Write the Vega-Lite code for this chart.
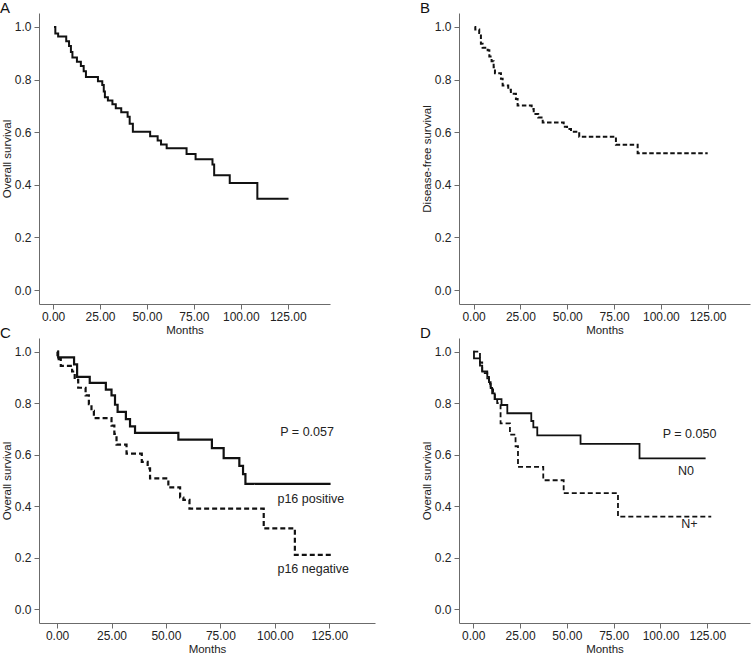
{
  "$schema": "https://vega.github.io/schema/vega-lite/v6.json",
  "autosize": {"type": "pad"},
  "padding": {"left": 0, "top": 1, "right": 4, "bottom": 0},
  "background": "white",
  "datasets": {
    "A": [
      {"t": 0.5, "s": 1.0}, {"t": 1.2, "s": 0.975}, {"t": 2.7, "s": 0.964}, {"t": 7.0, "s": 0.946},
      {"t": 8.5, "s": 0.928}, {"t": 9.5, "s": 0.905}, {"t": 10.3, "s": 0.884}, {"t": 12.7, "s": 0.868},
      {"t": 14.8, "s": 0.852}, {"t": 16.3, "s": 0.832}, {"t": 17.5, "s": 0.81}, {"t": 23.9, "s": 0.794},
      {"t": 26.2, "s": 0.779}, {"t": 27.0, "s": 0.755}, {"t": 27.6, "s": 0.733}, {"t": 29.2, "s": 0.72},
      {"t": 31.6, "s": 0.706}, {"t": 33.4, "s": 0.691}, {"t": 36.3, "s": 0.676}, {"t": 39.7, "s": 0.659},
      {"t": 40.8, "s": 0.632}, {"t": 42.5, "s": 0.602}, {"t": 51.7, "s": 0.585}, {"t": 55.7, "s": 0.568},
      {"t": 57.5, "s": 0.553}, {"t": 60.5, "s": 0.539}, {"t": 71.1, "s": 0.517}, {"t": 75.9, "s": 0.497},
      {"t": 84.9, "s": 0.477}, {"t": 85.8, "s": 0.436}, {"t": 94.1, "s": 0.407}, {"t": 108.8, "s": 0.347},
      {"t": 125.4, "s": 0.347}
    ],
    "B": [
      {"t": 0.5, "s": 1.0}, {"t": 0.9, "s": 0.99}, {"t": 3.0, "s": 0.977}, {"t": 3.9, "s": 0.936},
      {"t": 4.8, "s": 0.921}, {"t": 7.5, "s": 0.911}, {"t": 8.4, "s": 0.888}, {"t": 9.6, "s": 0.87},
      {"t": 10.7, "s": 0.847}, {"t": 11.4, "s": 0.824}, {"t": 14.6, "s": 0.803}, {"t": 15.5, "s": 0.777},
      {"t": 18.5, "s": 0.761}, {"t": 19.9, "s": 0.746}, {"t": 22.6, "s": 0.726}, {"t": 23.5, "s": 0.701},
      {"t": 31.0, "s": 0.688}, {"t": 32.1, "s": 0.669}, {"t": 34.5, "s": 0.656}, {"t": 36.9, "s": 0.637},
      {"t": 48.1, "s": 0.621}, {"t": 49.9, "s": 0.612}, {"t": 52.0, "s": 0.602}, {"t": 56.4, "s": 0.583},
      {"t": 76.0, "s": 0.552}, {"t": 87.6, "s": 0.52}, {"t": 125.0, "s": 0.52}
    ],
    "C": [
      {"g": "p16 positive", "t": 0.3, "s": 1.0}, {"g": "p16 positive", "t": 0.5, "s": 0.978},
      {"g": "p16 positive", "t": 7.8, "s": 0.951}, {"g": "p16 positive", "t": 9.2, "s": 0.902},
      {"g": "p16 positive", "t": 15.0, "s": 0.879}, {"g": "p16 positive", "t": 22.4, "s": 0.853},
      {"g": "p16 positive", "t": 25.0, "s": 0.83}, {"g": "p16 positive", "t": 26.6, "s": 0.794},
      {"g": "p16 positive", "t": 27.8, "s": 0.766}, {"g": "p16 positive", "t": 31.6, "s": 0.738},
      {"g": "p16 positive", "t": 33.5, "s": 0.71}, {"g": "p16 positive", "t": 35.8, "s": 0.685},
      {"g": "p16 positive", "t": 55.7, "s": 0.659}, {"g": "p16 positive", "t": 71.1, "s": 0.626},
      {"g": "p16 positive", "t": 76.5, "s": 0.587}, {"g": "p16 positive", "t": 83.7, "s": 0.557},
      {"g": "p16 positive", "t": 85.4, "s": 0.525}, {"g": "p16 positive", "t": 86.5, "s": 0.487},
      {"g": "p16 positive", "t": 125.6, "s": 0.487},
      {"g": "p16 negative", "t": 0.0, "s": 1.0}, {"g": "p16 negative", "t": 0.2, "s": 0.971},
      {"g": "p16 negative", "t": 1.7, "s": 0.945}, {"g": "p16 negative", "t": 6.9, "s": 0.923},
      {"g": "p16 negative", "t": 8.1, "s": 0.891}, {"g": "p16 negative", "t": 9.7, "s": 0.86},
      {"g": "p16 negative", "t": 13.1, "s": 0.83}, {"g": "p16 negative", "t": 14.6, "s": 0.796},
      {"g": "p16 negative", "t": 15.8, "s": 0.77}, {"g": "p16 negative", "t": 16.9, "s": 0.742},
      {"g": "p16 negative", "t": 25.0, "s": 0.713}, {"g": "p16 negative", "t": 26.3, "s": 0.681},
      {"g": "p16 negative", "t": 27.3, "s": 0.639}, {"g": "p16 negative", "t": 31.9, "s": 0.604},
      {"g": "p16 negative", "t": 38.9, "s": 0.572}, {"g": "p16 negative", "t": 41.6, "s": 0.547},
      {"g": "p16 negative", "t": 42.7, "s": 0.508}, {"g": "p16 negative", "t": 51.1, "s": 0.473},
      {"g": "p16 negative", "t": 56.5, "s": 0.434}, {"g": "p16 negative", "t": 58.0, "s": 0.425},
      {"g": "p16 negative", "t": 60.8, "s": 0.391}, {"g": "p16 negative", "t": 94.9, "s": 0.314},
      {"g": "p16 negative", "t": 109.2, "s": 0.211}, {"g": "p16 negative", "t": 126.4, "s": 0.211}
    ],
    "Cnotes": [
      {"t": 102.5, "s": 0.688, "label": "P = 0.057"},
      {"t": 101.2, "s": 0.43, "label": "p16 positive"},
      {"t": 101.2, "s": 0.158, "label": "p16 negative"}
    ],
    "D": [
      {"g": "N0", "t": 0.0, "s": 1.0}, {"g": "N0", "t": 0.4, "s": 0.974}, {"g": "N0", "t": 3.6, "s": 0.946},
      {"g": "N0", "t": 4.8, "s": 0.923}, {"g": "N0", "t": 7.5, "s": 0.902}, {"g": "N0", "t": 8.4, "s": 0.882},
      {"g": "N0", "t": 9.3, "s": 0.859}, {"g": "N0", "t": 10.1, "s": 0.838}, {"g": "N0", "t": 11.4, "s": 0.816},
      {"g": "N0", "t": 15.1, "s": 0.793}, {"g": "N0", "t": 18.2, "s": 0.761}, {"g": "N0", "t": 31.0, "s": 0.731},
      {"g": "N0", "t": 32.1, "s": 0.706}, {"g": "N0", "t": 34.2, "s": 0.675}, {"g": "N0", "t": 57.3, "s": 0.642},
      {"g": "N0", "t": 88.8, "s": 0.586}, {"g": "N0", "t": 124.1, "s": 0.586},
      {"g": "N+", "t": 0.0, "s": 1.0}, {"g": "N+", "t": 3.6, "s": 0.958}, {"g": "N+", "t": 4.8, "s": 0.917},
      {"g": "N+", "t": 7.5, "s": 0.896}, {"g": "N+", "t": 8.4, "s": 0.875}, {"g": "N+", "t": 9.3, "s": 0.854},
      {"g": "N+", "t": 10.6, "s": 0.833}, {"g": "N+", "t": 11.6, "s": 0.812}, {"g": "N+", "t": 12.8, "s": 0.8},
      {"g": "N+", "t": 14.6, "s": 0.722}, {"g": "N+", "t": 19.6, "s": 0.678}, {"g": "N+", "t": 22.6, "s": 0.633},
      {"g": "N+", "t": 23.9, "s": 0.553}, {"g": "N+", "t": 37.4, "s": 0.501}, {"g": "N+", "t": 48.3, "s": 0.451},
      {"g": "N+", "t": 77.3, "s": 0.36}, {"g": "N+", "t": 127.1, "s": 0.36}
    ],
    "Dnotes": [
      {"t": 101.2, "s": 0.68, "label": "P = 0.050"},
      {"t": 109.4, "s": 0.537, "label": "N0"},
      {"t": 111.1, "s": 0.333, "label": "N+"}
    ]
  },
  "columns": 2,
  "bounds": "flush",
  "spacing": {"row": 34, "column": 84},
  "concat": [
    {
      "width": 291, "height": 291,
      "title": {"text": "A"},
      "data": {"name": "A"},
      "mark": {"type": "line", "interpolate": "step-after", "color": "#111", "strokeWidth": 2},
      "encoding": {
        "x": {"field": "t", "type": "quantitative", "scale": {"domain": [-7.5, 147.5], "nice": false, "zero": false},
              "axis": {"title": "Months", "values": [0, 25, 50, 75, 100, 125], "format": ".2f"}},
        "y": {"field": "s", "type": "quantitative", "scale": {"domain": [-0.053, 1.053], "nice": false, "zero": false},
              "axis": {"title": "Overall survival", "values": [0, 0.2, 0.4, 0.6, 0.8, 1.0], "format": ".1f"}}
      }
    },
    {
      "width": 291, "height": 291,
      "title": {"text": "B"},
      "data": {"name": "B"},
      "mark": {"type": "line", "interpolate": "step-after", "color": "#111", "strokeWidth": 2, "strokeDash": [4.5, 2.5]},
      "encoding": {
        "x": {"field": "t", "type": "quantitative", "scale": {"domain": [-7.8, 147.6], "nice": false, "zero": false},
              "axis": {"title": "Months", "values": [0, 25, 50, 75, 100, 125], "format": ".2f"}},
        "y": {"field": "s", "type": "quantitative", "scale": {"domain": [-0.053, 1.053], "nice": false, "zero": false},
              "axis": {"title": "Disease-free survival", "values": [0, 0.2, 0.4, 0.6, 0.8, 1.0], "format": ".1f"}}
      }
    },
    {
      "width": 336, "height": 285,
      "title": {"text": "C"},
      "layer": [
        {
          "data": {"name": "C"},
          "mark": {"type": "line", "interpolate": "step-after", "color": "#111", "strokeWidth": 2.2},
          "encoding": {
            "x": {"field": "t", "type": "quantitative", "scale": {"domain": [-8.3, 146], "nice": false, "zero": false},
                  "axis": {"title": "Months", "values": [0, 25, 50, 75, 100, 125], "format": ".2f"}},
            "y": {"field": "s", "type": "quantitative", "scale": {"domain": [-0.053, 1.053], "nice": false, "zero": false},
                  "axis": {"title": "Overall survival", "values": [0, 0.2, 0.4, 0.6, 0.8, 1.0], "format": ".1f"}},
            "strokeDash": {"field": "g", "type": "nominal", "legend": null,
                           "scale": {"domain": ["p16 positive", "p16 negative"], "range": [[1, 0], [5, 3]]}}
          }
        },
        {
          "data": {"name": "Cnotes"},
          "mark": {"type": "text", "align": "left", "baseline": "middle", "fontSize": 12.5, "font": "Liberation Sans", "color": "#222"},
          "encoding": {
            "x": {"field": "t", "type": "quantitative"},
            "y": {"field": "s", "type": "quantitative"},
            "text": {"field": "label"}
          }
        }
      ]
    },
    {
      "width": 291, "height": 285,
      "title": {"text": "D"},
      "layer": [
        {
          "data": {"name": "D"},
          "mark": {"type": "line", "interpolate": "step-after", "color": "#111", "strokeWidth": 1.8},
          "encoding": {
            "x": {"field": "t", "type": "quantitative", "scale": {"domain": [-7.6, 147.8], "nice": false, "zero": false},
                  "axis": {"title": "Months", "values": [0, 25, 50, 75, 100, 125], "format": ".2f"}},
            "y": {"field": "s", "type": "quantitative", "scale": {"domain": [-0.053, 1.053], "nice": false, "zero": false},
                  "axis": {"title": "Overall survival", "values": [0, 0.2, 0.4, 0.6, 0.8, 1.0], "format": ".1f"}},
            "strokeDash": {"field": "g", "type": "nominal", "legend": null,
                           "scale": {"domain": ["N0", "N+"], "range": [[1, 0], [3, 1.5]]}}
          }
        },
        {
          "data": {"name": "Dnotes"},
          "mark": {"type": "text", "align": "left", "baseline": "middle", "fontSize": 12.5, "font": "Liberation Sans", "color": "#222"},
          "encoding": {
            "x": {"field": "t", "type": "quantitative"},
            "y": {"field": "s", "type": "quantitative"},
            "text": {"field": "label"}
          }
        }
      ]
    }
  ],
  "config": {
    "font": "Liberation Sans",
    "view": {"stroke": null},
    "axis": {
      "grid": false,
      "domainColor": "#6b6b6b",
      "tickColor": "#6b6b6b",
      "tickSize": 5,
      "labelPadding": 3,
      "labelFont": "Liberation Sans",
      "labelFontSize": 12,
      "labelColor": "#222",
      "titleFont": "Liberation Sans",
      "titleFontSize": 11.5,
      "titleFontWeight": "normal",
      "titleColor": "#222",
      "titlePadding": 2
    },
    "axisX": {"labelPadding": 2, "titlePadding": 2},
    "title": {
      "anchor": "start",
      "frame": "group",
      "dx": -39,
      "offset": -3,
      "fontSize": 15,
      "fontWeight": "normal",
      "font": "Liberation Sans",
      "color": "#111"
    }
  }
}
